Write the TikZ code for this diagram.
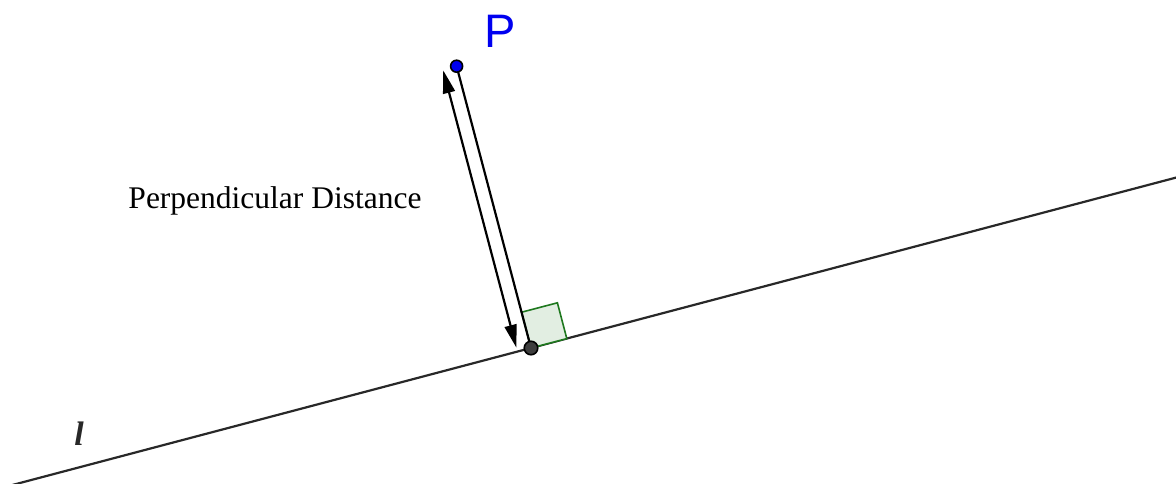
\documentclass[tikz,border=0pt]{standalone}
\usepackage{fontspec}
\setmainfont{Liberation Serif}
\newfontfamily\labsans{Liberation Sans}
\usetikzlibrary{arrows.meta}
\definecolor{pblue}{RGB}{0,0,240}
\definecolor{sqfill}{RGB}{226,238,226}
\definecolor{sqline}{RGB}{30,120,30}
\definecolor{linegray}{RGB}{40,40,40}
\tikzset{
  mainline/.style={draw=linegray, line width=2.2pt},
  segline/.style={draw=black, line width=2.2pt},
  distarrow/.style={draw=black, line width=2.2pt, {Triangle[length=23pt,width=12pt]}-{Triangle[length=23pt,width=12pt]}},
  dotpt/.style={circle, draw=black, line width=1.6pt, inner sep=0pt},
  rightang/.style={fill=sqfill, draw=sqline, line width=1.6pt}
}
\begin{document}
\begin{tikzpicture}[x=1pt,y=-1pt]
\useasboundingbox (0,0) rectangle (1176,483);
\clip (0,0) rectangle (1176,483);
% coordinates
\coordinate (L1) at (-10.4,491);
\coordinate (L2) at (1207.8,169.2);
\coordinate (S1) at (566.8,338.6);
\coordinate (S2) at (557.4,302.8);
\coordinate (S3) at (521.6,312.2);
\coordinate (A1) at (516.4,347.7);
\coordinate (A2) at (443.2,70.3);
\coordinate (Fc) at (531,348);
\coordinate (Pc) at (456.6,66.2);
% line l
\draw[mainline] (L1) -- (L2);
% right angle marker
\draw[rightang] (Fc) -- (S1) -- (S2) -- (S3) -- cycle;
% perpendicular segment
\draw[segline] (Pc) -- (Fc);
% distance arrow
\draw[distarrow] (A1) -- (A2);
% points
\node[dotpt, fill=pblue, minimum size=12pt] (P) at (Pc) {};
\node[dotpt, fill=linegray!90, minimum size=13.5pt] (F) at (Fc) {};
% labels
\node[text=pblue, font=\labsans\fontsize{47}{47}\selectfont, inner sep=0pt, anchor=base west] (Plab) at (484,47) {P};
\node[font=\fontsize{31.5}{31.5}\selectfont, inner sep=0pt, anchor=base] (dlab) at (275,208) {Perpendicular Distance};
\node[text=linegray, font=\itshape\bfseries\fontsize{34}{34}\selectfont, inner sep=0pt, anchor=base] (llab) at (79,445) {l};
\end{tikzpicture}
\end{document}
